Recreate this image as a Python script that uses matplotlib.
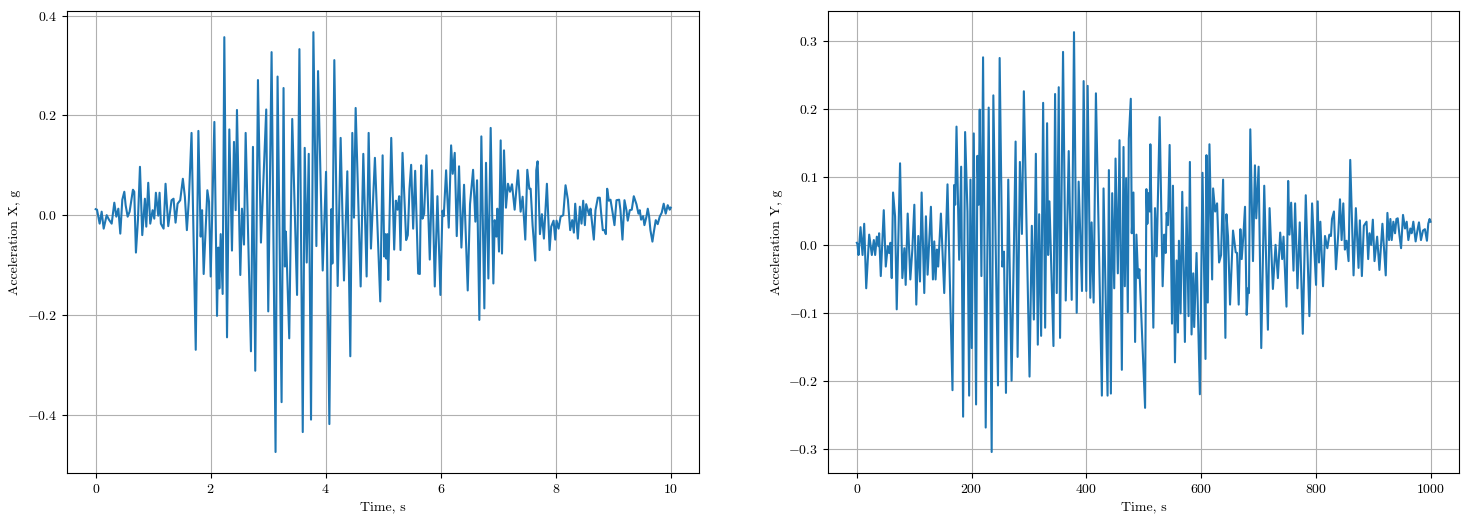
import matplotlib
matplotlib.use("Agg")
import matplotlib.pyplot as plt

plt.rcParams['font.family'] = 'serif'
plt.rcParams['font.serif'] = ['cmr10']
plt.rcParams['mathtext.fontset'] = 'cm'
plt.rcParams['axes.formatter.use_mathtext'] = True
plt.rcParams['font.size'] = 10

# X component: time (s) and acceleration (g)
t_x = [0.0, 0.023, 0.069, 0.104, 0.139, 0.191, 0.231, 0.278, 0.324, 0.359, 0.394, 0.428, 0.463, 0.498,
       0.521, 0.556, 0.590, 0.648, 0.671, 0.700, 0.735, 0.770, 0.810, 0.856, 0.880, 0.914, 0.949, 0.990,
       1.019, 1.047, 1.088, 1.111, 1.134, 1.181, 1.215, 1.262, 1.319, 1.354, 1.389, 1.424, 1.470, 1.516,
       1.551, 1.586, 1.620, 1.667,
       1.740, 1.786, 1.826, 1.850, 1.878, 1.942, 1.971, 2.0, 2.064, 2.110, 2.133, 2.150, 2.174, 2.208,
       2.237, 2.284, 2.324, 2.370, 2.405, 2.434, 2.457, 2.515, 2.544, 2.579, 2.608, 2.700, 2.735, 2.775,
       2.822, 2.874, 2.966, 3.001, 3.059, 3.128, 3.163, 3.233, 3.267, 3.291, 3.308, 3.366, 3.418,
       3.502, 3.543, 3.601, 3.635, 3.670, 3.705, 3.745, 3.786, 3.838, 3.867, 3.948, 4.006, 4.064, 4.098,
       4.116, 4.150, 4.208, 4.260, 4.318, 4.376, 4.428, 4.463, 4.492, 4.521, 4.608, 4.654, 4.712, 4.747,
       4.787, 4.856, 4.949, 4.990, 5.019, 5.036, 5.053, 5.071, 5.088, 5.140,
       5.191, 5.220, 5.249, 5.278, 5.301, 5.336, 5.399, 5.428, 5.457, 5.486, 5.521, 5.556, 5.608, 5.637,
       5.660, 5.683, 5.712, 5.752, 5.810, 5.851, 5.897, 5.943, 5.995, 6.030, 6.053, 6.094, 6.140, 6.181,
       6.209, 6.244, 6.279, 6.319, 6.360, 6.406, 6.470, 6.510, 6.563, 6.603, 6.632, 6.672, 6.707, 6.759,
       6.788, 6.829, 6.869,
       6.916, 6.939, 6.968, 6.985, 7.014, 7.043, 7.066, 7.101, 7.135, 7.170, 7.205, 7.240, 7.286, 7.344,
       7.390, 7.425, 7.471, 7.506, 7.541, 7.564, 7.598, 7.645, 7.662, 7.685, 7.726, 7.760, 7.795, 7.847,
       7.894, 7.922, 7.963, 7.992, 8.015, 8.050, 8.085, 8.131, 8.171, 8.212, 8.252, 8.287, 8.316, 8.339,
       8.385, 8.420, 8.449, 8.478, 8.507, 8.530, 8.582, 8.606,
       8.663, 8.692, 8.733, 8.767, 8.791, 8.819, 8.848, 8.872, 8.895, 8.924, 8.953, 8.987, 9.022, 9.057,
       9.103, 9.126, 9.161, 9.196, 9.230, 9.253, 9.288, 9.323, 9.358, 9.404, 9.439, 9.462, 9.485, 9.520,
       9.543, 9.578, 9.601, 9.624, 9.647, 9.682, 9.705, 9.740, 9.774, 9.809, 9.844, 9.878, 9.913, 9.948,
       9.983, 10.0]
acc_x = [0.012, 0.011, -0.017, 0.007, -0.027, 0.0, -0.009, -0.017, 0.025, -0.003, 0.013, -0.037, 0.031, 0.047,
         0.02, -0.003, 0.007, 0.051, 0.047, -0.075, -0.01, 0.097, -0.04, 0.033, -0.023, 0.065, -0.017, 0.01,
         -0.007, 0.045, -0.001, 0.045, -0.017, -0.027, 0.063, -0.022, 0.03, 0.033, -0.015, 0.023, 0.03, 0.073,
         0.037, -0.03, 0.03, 0.165,
         -0.27, 0.169, -0.043, 0.01, -0.118, 0.05, 0.027, -0.123, 0.187, -0.202, -0.065, -0.147, -0.038, -0.158,
         0.357, -0.245, 0.172, -0.071, 0.147, 0.01, 0.211, -0.12, 0.013, -0.059, 0.165, -0.273, 0.137, -0.312,
         0.271, -0.055, 0.212, -0.193, 0.327, -0.475, 0.278, -0.375, 0.255, -0.103, -0.033, -0.247, 0.193,
         -0.16, 0.333, -0.435, 0.135, -0.095, 0.123, -0.41, 0.367, -0.062, 0.289, -0.111, 0.087, -0.419, 0.012,
         -0.097, 0.311, -0.142, 0.155, -0.131, 0.088, -0.283, 0.165, -0.005, 0.215, -0.143, 0.123, -0.123, 0.165,
         -0.067, 0.115, -0.173, 0.12, -0.083, -0.038, -0.087, -0.038, -0.13, 0.155,
         -0.069, 0.029, 0.011, 0.038, -0.07, 0.125, -0.05, -0.04, 0.053, 0.101, -0.027, 0.089, -0.117, -0.118,
         0.1, -0.007, 0.003, 0.12, -0.089, 0.09, -0.143, 0.038, -0.16, 0.009, -0.002, 0.09, -0.025, 0.14,
         0.083, 0.125, -0.042, 0.098, -0.065, 0.061, -0.151, 0.022, 0.091, -0.013, 0.07, -0.21, 0.158, -0.187,
         0.105, -0.127, 0.175,
         -0.137, -0.01, -0.043, 0.013, -0.073, 0.15, -0.077, 0.13, 0.015, 0.063, 0.047, 0.062, 0.011, 0.09,
         0.007, 0.037, -0.049, 0.091, 0.053, 0.053, -0.02, -0.091, 0.09, 0.108, -0.038, 0.002, -0.047, 0.063,
         -0.07, -0.023, -0.011, -0.049, -0.011, -0.027, -0.003, 0.0, 0.06, 0.031, -0.03, -0.01, -0.035, 0.023,
         -0.047, 0.017, -0.017, 0.029, -0.02, 0.022, 0.0, 0.013,
         -0.049, 0.01, 0.035, 0.035, 0.003, -0.03, -0.03, -0.038, 0.053, 0.029, 0.031, 0.007, -0.02, 0.03,
         0.031, 0.01, -0.049, 0.03, 0.01, -0.011, 0.01, 0.011, 0.038, 0.022, 0.003, 0.01, -0.009, -0.002,
         -0.02, -0.003, 0.013, -0.002, -0.03, -0.053, -0.035, -0.01, -0.018, -0.003, 0.005, 0.023, 0.003, 0.02,
         0.011, 0.015]

# Y component: sample index and acceleration (g)
n_y = [0, 1, 2.9, 6.4, 9.9, 12.8, 16.3, 21.5, 26.1, 29.6, 31.9, 34.8, 37.7, 38.8, 41.7, 46.9, 50.4, 53.9,
       56.2, 58.5, 60.8, 63.1, 66.6, 69.5, 75.3, 79.3, 82.8, 85.1, 88.6, 93.2, 96.7, 100.2, 103.6, 107.1,
       110.0, 112.9, 117.5, 120.4, 123.3, 126.2, 129.1, 132.6, 134.9, 137.2, 139.5, 141.8, 146.5, 152.3, 158.0,
       166.7, 169.6, 171.4, 173.7, 178.3, 181.8, 185.2, 188.7, 192.8, 195.7, 198.0, 200.3, 203.8, 207.8,
       210.1, 212.4, 214.2, 217.1, 220.0, 224.6, 229.8, 235.0, 237.9, 242.0, 246.0, 248.9, 253.5, 256.4,
       259.9, 263.9, 269.7, 273.8, 276.7, 280.2, 284.2, 287.7, 291.1, 301.0, 305.0, 308.5, 312.0, 315.4,
       317.8, 321.2, 324.7, 328.2, 331.6, 333.4, 335.7,
       342.7, 345.5, 348.4, 351.9, 354.2, 359.4, 364.1, 369.3, 374.5, 378.5, 383.2, 386.6, 392.4, 395.3,
       399.9, 402.3, 406.9, 409.2, 412.7, 416.7, 427.1, 430.0, 437.0, 439.3, 442.8, 445.1, 448.6, 450.9,
       454.9, 457.8, 461.9, 464.8, 467.1, 469.4, 472.3, 474.0, 477.5, 479.2, 482.1, 485.0, 487.3, 490.2,
       492.5, 502.4, 504.7, 506.4, 508.2, 510.5, 511.6,
       513.9, 516.8, 519.7, 522.6, 527.8, 533.0, 535.9, 538.3, 540.0, 542.3, 545.2, 549.3, 551.0, 554.5,
       557.3, 559.7, 561.4, 564.3, 567.2, 571.8, 574.7, 578.2, 580.5, 583.4, 586.3, 588.0, 592.1, 597.9,
       602.5, 607.7, 609.4, 611.7, 614.6, 619.3, 621.0, 624.5, 627.9, 631.4, 634.9, 638.4, 642.4, 644.2,
       647.0, 650.5, 655.7, 660.4, 662.7, 665.6, 668.5, 670.8, 673.7, 676.6, 679.5, 681.8, 683.5, 685.8,
       690.5, 693.9, 696.2, 700.3, 704.9, 710.1, 716.5, 719.4, 725.2, 729.8, 733.9, 737.9, 741.4, 743.7,
       748.9, 751.8, 754.1, 757.0, 761.1, 763.9, 768.0, 772.0, 777.3, 782.5, 788.8, 793.5, 800.4, 803.3,
       805.6, 807.9, 812.6, 816.0, 820.1, 823.6, 826.4, 828.2, 831.6, 835.1, 839.2, 842.1, 845.0, 847.9,
       850.7, 853.6, 857.1, 860.0,
       865.8, 869.8, 874.5, 876.8, 880.3, 883.7, 888.4, 891.3, 893.6, 896.5, 899.4, 902.3, 906.9, 910.9,
       916.1, 921.9, 924.8, 927.7, 930.0, 932.3, 935.2, 938.1, 940.5, 942.8, 945.7, 948.6, 952.0, 955.5,
       958.4, 961.3, 964.8, 967.1, 970.0, 974.0, 977.5, 979.8, 983.3, 986.8, 990.2, 993.7, 996.0, 998.3, 1000]
acc_y = [0.003, 0.001, -0.015, 0.026, -0.015, 0.031, -0.064, 0.015, -0.015, 0.007, -0.015, 0.012, -0.002, 0.017,
         -0.046, 0.051, -0.032, -0.002, -0.012, 0.003, -0.049, 0.077, 0.042, -0.095, 0.12, -0.049, -0.005, -0.059,
         0.046, -0.051, -0.007, 0.059, -0.088, 0.013, -0.054, 0.077, -0.071, 0.042, -0.044, 0.007, 0.056, -0.051,
         0.005, -0.051, -0.007, -0.032, 0.046, -0.071, 0.089,
         -0.214, 0.088, 0.059, 0.174, -0.022, 0.115, -0.253, 0.166, 0.049, -0.222, 0.096, -0.152, 0.164, -0.235,
         0.131, 0.059, 0.199, -0.046, 0.276, -0.269, 0.202, -0.305, 0.22, -0.002, -0.207, 0.275, -0.032, -0.01,
         -0.218, 0.096, -0.2, -0.002, 0.152, -0.165, 0.122, 0.016, 0.226, -0.194, 0.028, -0.11, 0.134, -0.147,
         0.045, -0.134, 0.209, -0.122, 0.179, -0.015, 0.064,
         -0.149, 0.222, -0.071, 0.232, -0.137, 0.284, -0.082, 0.138, -0.081, 0.313, -0.1, 0.093, -0.068, 0.241,
         -0.068, 0.234, -0.078, 0.033, -0.085, 0.223, -0.222, 0.083, -0.222, 0.11, -0.219, 0.076, -0.064, 0.127,
         -0.042, 0.154, -0.184, 0.144, -0.061, 0.098, -0.099, 0.156, 0.215, 0.017, 0.077, -0.143, 0.015, -0.049,
         -0.036, -0.24, 0.082, 0.031, 0.076, 0.049, 0.148,
         0.02, -0.122, 0.054, -0.017, 0.188, -0.061, 0.015, -0.012, 0.047, 0.029, 0.147, -0.116, 0.087, -0.173,
         -0.023, -0.129, 0.006, -0.101, 0.078, -0.143, 0.055, -0.105, 0.122, -0.132, -0.042, -0.121, -0.012, -0.22,
         0.106, -0.168, 0.132, -0.085, 0.148, -0.051, 0.083, 0.049, 0.061, -0.026, -0.015, 0.096, -0.137, 0.045,
         0.012, -0.088, 0.021, -0.011, -0.012, -0.088, 0.023, -0.021, 0.013, 0.056, -0.103, -0.064, -0.071, 0.17,
         -0.024, 0.117, 0.039, 0.115, -0.152, 0.087, -0.125, 0.054, -0.065, 0.0, -0.049, 0.018, -0.021, 0.012,
         -0.091, 0.094, 0.015, 0.062, -0.038, 0.061, -0.064, 0.033, -0.131, 0.073, -0.105, 0.061, -0.059, 0.064,
         -0.026, 0.034, -0.061, 0.013, -0.005, 0.015, 0.013, 0.038, 0.049, -0.036, 0.017, 0.067, 0.007, 0.061,
         -0.007, 0.006, -0.024, 0.125,
         -0.045, 0.054, -0.034, 0.036, -0.046, 0.028, 0.034, -0.021, 0.017, 0.0, 0.037, -0.024, 0.012, -0.037,
         0.031, -0.045, 0.047, 0.007, 0.038, 0.007, 0.034, 0.017, 0.038, 0.039, 0.015, -0.005, 0.044, 0.024,
         0.034, 0.007, 0.024, 0.017, 0.034, 0.005, 0.023, 0.033, 0.007, 0.021, 0.023, 0.006, 0.031, 0.038, 0.034]

fig = plt.figure(figsize=(14.71, 5.23), dpi=100)
ax1 = fig.add_axes([0.0455, 0.0956, 0.430, 0.883])
ax2 = fig.add_axes([0.563, 0.0956, 0.429, 0.883])

ax1.plot(t_x, acc_x, color='tab:blue')
ax1.set_xlabel('Time, s')
ax1.set_ylabel('Acceleration X, g')
ax1.grid(True)

ax2.plot(n_y, acc_y, color='tab:blue')
ax2.set_xlabel('Time, s')
ax2.set_ylabel('Acceleration Y, g')
ax2.grid(True)

fig.savefig('out.png', dpi=100)
